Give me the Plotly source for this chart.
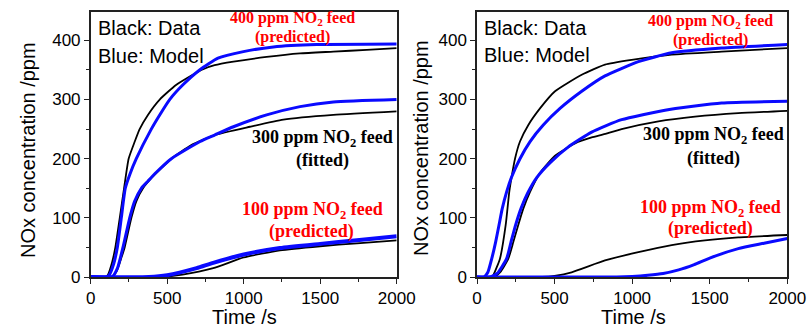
import plotly.graph_objects as go
from plotly.subplots import make_subplots

W, H = 809, 327

# ---------------- data ----------------
# Left panel
L400_data_t = [0, 100, 113, 140, 161, 190, 218, 248, 288, 320, 374, 451, 560, 723, 810, 933, 1150, 1368, 1586, 1804, 2000]
L400_data_y = [0, 0, 4, 25, 50, 100, 150, 200, 229, 250, 274, 300, 325, 350, 358, 364, 372, 378, 381, 384, 387]
L400_model_t = [0, 100, 120, 150, 174, 200, 226, 255, 298, 396, 451, 516, 603, 712, 832, 998, 1194, 1477, 2000]
L400_model_y = [0, 0, 3, 22, 50, 100, 150, 173, 200, 250, 274, 300, 325, 350, 370, 381, 389, 393, 394]

L300_data_t = [0, 135, 170, 200, 222, 266, 298, 342, 396, 462, 527, 658, 810, 1041, 1259, 1586, 2000]
L300_data_y = [0, 0, 10, 32, 50, 100, 128, 150, 167, 184, 200, 223, 240, 254, 266, 274, 280]
L300_model_t = [0, 140, 175, 211, 255, 287, 331, 374, 429, 527, 715, 810, 933, 1150, 1368, 1586, 2000]
L300_model_y = [0, 0, 15, 50, 100, 128, 150, 162, 177, 200, 229, 240, 254, 274, 288, 296, 300]

L100_data_t = [0, 450, 600, 801, 1000, 1237, 1500, 1740, 2000]
L100_data_y = [0, 0, 4, 15, 33, 45, 52, 57, 62]
L100_model_t = [0, 380, 500, 692, 801, 1000, 1237, 1500, 1740, 2000]
L100_model_y = [0, 0, 3, 15, 24, 38, 49, 56, 62, 69]

# Right panel
R400_data_t = [0, 95, 105, 148, 185, 208, 223, 245, 277, 331, 406, 503, 675, 825, 997, 1255, 1577, 2000]
R400_data_y = [0, 0, 3, 31, 88, 144, 169, 200, 229, 257, 285, 314, 342, 359, 367, 376, 381, 387]
R400_model_t = [0, 45, 70, 95, 120, 142, 163, 191, 223, 277, 342, 427, 535, 675, 825, 1040, 1255, 1577, 2000]
R400_model_y = [0, 0, 8, 31, 59, 88, 116, 144, 169, 200, 229, 257, 285, 314, 340, 364, 379, 387, 393]

R300_data_t = [0, 110, 150, 202, 234, 266, 299, 342, 406, 503, 632, 739, 814, 932, 1169, 1405, 1684, 2000]
R300_data_y = [0, 0, 8, 31, 59, 88, 116, 144, 176, 205, 226, 236, 241, 250, 263, 271, 277, 281]
R300_model_t = [0, 80, 130, 191, 219, 249, 284, 327, 385, 470, 589, 739, 932, 1212, 1577, 2000]
R300_model_y = [0, 0, 6, 31, 59, 88, 116, 142, 168, 193, 220, 245, 266, 282, 294, 297]

R100_data_t = [0, 420, 500, 610, 825, 1040, 1255, 1469, 1684, 2000]
R100_data_y = [0, 0, 2, 8, 28, 42, 54, 62, 67, 71]
R100_model_t = [0, 900, 1000, 1100, 1200, 1300, 1400, 1500, 1684, 1850, 2000]
R100_model_y = [0, 0, 1, 3, 6, 12, 21, 32, 48, 57, 65]

x_ticks = [0, 500, 1000, 1500, 2000]
y_ticks = [0, 100, 200, 300, 400]

# ---------------- figure ----------------
fig = make_subplots(rows=1, cols=2)

BLACK = "#000000"
BLUE = "#0a0aff"


def add(t, y, col, color, width):
    fig.add_trace(go.Scatter(x=t, y=y, mode="lines",
                             line=dict(color=color, width=width, shape="spline", smoothing=0.5),
                             showlegend=False, hoverinfo="skip"), row=1, col=col)


for t, y in [(L400_data_t, L400_data_y), (L300_data_t, L300_data_y), (L100_data_t, L100_data_y)]:
    add(t, y, 1, BLACK, 1.8)
add(L400_model_t, L400_model_y, 1, BLUE, 3)
add(L300_model_t, L300_model_y, 1, BLUE, 3)
add(L100_model_t, L100_model_y, 1, BLUE, 4)

for t, y in [(R400_data_t, R400_data_y), (R300_data_t, R300_data_y), (R100_data_t, R100_data_y)]:
    add(t, y, 2, BLACK, 1.8)
add(R400_model_t, R400_model_y, 2, BLUE, 3)
add(R300_model_t, R300_model_y, 2, BLUE, 3)
add(R100_model_t, R100_model_y, 2, BLUE, 3)

ydom = [(H - 277) / H, (H - 12) / H]
xdoms = [[90.7 / W, 396.7 / W], [477 / W, 787.3 / W]]

axis_common = dict(showline=True, mirror=True, linecolor="#222", linewidth=1.5,
                   ticks="outside", ticklen=5, tickwidth=1.2, tickcolor="#222",
                   showgrid=False, zeroline=False, automargin=False,
                   tickfont=dict(family="Liberation Sans, Arial", size=17, color="black"))

for i, xd in enumerate(xdoms, start=1):
    fig.update_xaxes(domain=xd, range=[0, 2000], tickvals=x_ticks,
                     minor=dict(ticks="outside", ticklen=3, dtick=250, tick0=0, tickcolor="#222"),
                     row=1, col=i, **axis_common)
    fig.update_yaxes(domain=ydom, range=[0, 448], tickvals=y_ticks,
                     minor=dict(ticks="outside", ticklen=3, dtick=50, tick0=0, tickcolor="#222"),
                     row=1, col=i, **axis_common)


def P(px, py):
    return px / W, 1 - py / H


def ann(text, px, py, size, color="black", family="Liberation Sans, Arial", xanchor="center", angle=0):
    x, y = P(px, py)
    fig.add_annotation(text=text, x=x, y=y, xref="paper", yref="paper", showarrow=False,
                       xanchor=xanchor, yanchor="middle", textangle=angle,
                       font=dict(family=family, size=size, color=color))


SERIF = "Liberation Serif, Times New Roman"
RED = "#ff0000"

# Left panel texts
ann("Black: Data", 96, 28, 20, xanchor="left")
ann("Blue: Model", 96, 56, 20, xanchor="left")
ann("<b>400 ppm NO<sub>2</sub> feed</b>", 292, 18, 16, RED, SERIF)
ann("<b>(predicted)</b>", 292, 37, 16, RED, SERIF)
ann("<b>300 ppm NO<sub>2</sub> feed</b>", 322, 138, 18, "black", SERIF)
ann("<b>(fitted)</b>", 322, 160, 18, "black", SERIF)
ann("<b>100 ppm NO<sub>2</sub> feed</b>", 312, 210, 18, RED, SERIF)
ann("<b>(predicted)</b>", 311, 231, 18, RED, SERIF)
ann("NOx concentration /ppm", 28, 150, 20, angle=-90)
ann("Time /s", 244, 317, 20)

# Right panel texts
ann("Black: Data", 482, 28, 20, xanchor="left")
ann("Blue: Model", 482, 55, 20, xanchor="left")
ann("<b>400 ppm NO<sub>2</sub> feed</b>", 710, 21, 16, RED, SERIF)
ann("<b>(predicted)</b>", 710, 40, 16, RED, SERIF)
ann("<b>300 ppm NO<sub>2</sub> feed</b>", 713, 135, 18, "black", SERIF)
ann("<b>(fitted)</b>", 713, 158, 18, "black", SERIF)
ann("<b>100 ppm NO<sub>2</sub> feed</b>", 710, 208, 18, RED, SERIF)
ann("<b>(predicted)</b>", 710, 229, 18, RED, SERIF)
ann("NOx concentration /ppm", 421, 148, 20, angle=-90)
ann("Time /s", 633, 317, 20)

fig.update_layout(width=W, height=H, margin=dict(l=0, r=0, t=0, b=0),
                  paper_bgcolor="white", plot_bgcolor="white", showlegend=False)

fig.write_html("out.html", config={"displayModeBar": False},
               post_script="document.body.style.margin='0px';document.body.style.overflow='hidden';")
